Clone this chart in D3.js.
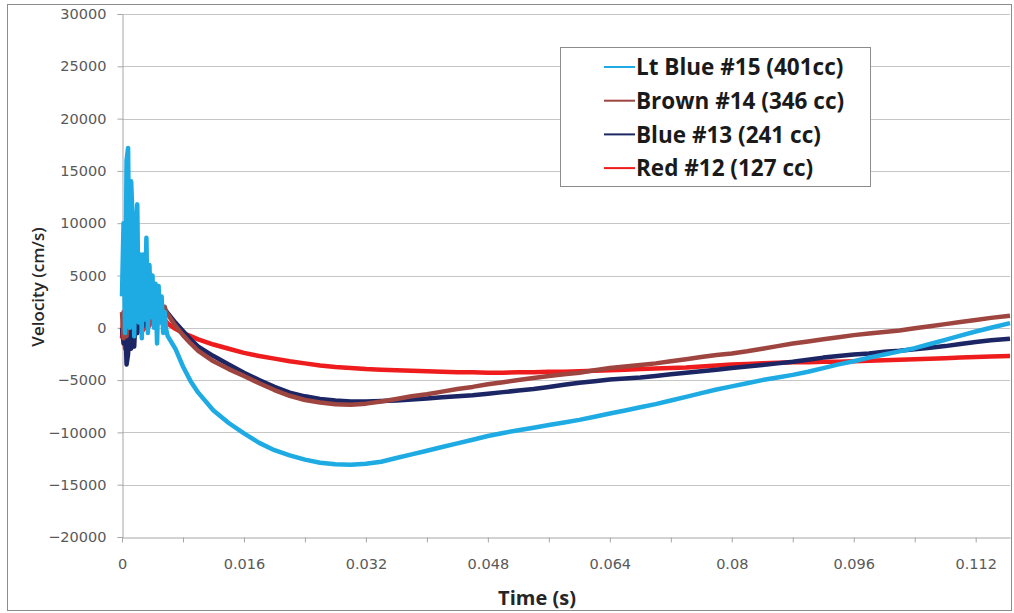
<!DOCTYPE html>
<html>
<head>
<meta charset="utf-8">
<script src="https://cdn.jsdelivr.net/npm/d3@7"></script>
<style>
  body { margin: 0; background: #fff; }
  svg { display: block; }
  .tick text { font-family: "DejaVu Sans", sans-serif; fill: #595959; }
</style>
</head>
<body>
<svg id="chart"></svg>
<script>
// time samples (s)
var times = [0, 0.0002, 0.0004, 0.0006, 0.0008, 0.001, 0.0012, 0.0014, 0.0016, 0.0018,
  0.002, 0.0022, 0.0024, 0.0026, 0.0028, 0.003, 0.0032, 0.0034, 0.0036, 0.0038,
  0.004, 0.0042, 0.0044, 0.0046, 0.0048, 0.005, 0.0052, 0.0054, 0.0056, 0.0058, 0.006,
  0.007, 0.008, 0.009, 0.010,
  0.012, 0.014, 0.016, 0.018, 0.020, 0.022, 0.024, 0.026, 0.028, 0.030,
  0.032, 0.034, 0.036, 0.038, 0.040, 0.042, 0.044, 0.046, 0.048, 0.050,
  0.052, 0.054, 0.056, 0.058, 0.060, 0.062, 0.064, 0.066, 0.068, 0.070,
  0.072, 0.074, 0.076, 0.078, 0.080, 0.082, 0.084, 0.086, 0.088, 0.090,
  0.092, 0.094, 0.096, 0.098, 0.100, 0.102, 0.104, 0.106, 0.108, 0.110,
  0.112, 0.114, 0.1165];

// velocity (cm/s)
var ltBlue15 = [3000, 10000, -500, 16000, 17200, 0, 14000, 10200, -800, 9000,
  11800, 500, 7000, -1000, 7000, 800, 8600, -500, 6000, 1000,
  5000, 0, 4200, -1500, 4000, 500, 3000, -500, 1500, -200, -800,
  -2000, -3700, -5100, -6200,
  -7900, -9100, -10100, -11000, -11700, -12200, -12600, -12900, -13050, -13100,
  -13000, -12800, -12450, -12100, -11750, -11400, -11050, -10700, -10350, -10050,
  -9800, -9550, -9300, -9050, -8800, -8500, -8200, -7900, -7600, -7300,
  -6950, -6600, -6250, -5900, -5600, -5300, -5000, -4750, -4500, -4200,
  -3850, -3500, -3200, -2850, -2550, -2250, -1950, -1550, -1150, -750,
  -350, 0, 450];

var brown14 = [1500, -1000, 1200, -800, 1500, 0, 2000, 500, 2200, 800,
  2500, 1000, 2300, 1200, 2600, 1500, 2800, 1800, 3000, 2200,
  2900, 2300, 2800, 2200, 2500, 2000, 2200, 1700, 2000, 1500, 1300,
  200, -700, -1500, -2200,
  -3200, -3950, -4600, -5300, -5950, -6500, -6900, -7150, -7300, -7350,
  -7250, -7050, -6800, -6550, -6350, -6100, -5850, -5650, -5400, -5200,
  -5000, -4800, -4600, -4450, -4300, -4050, -3850, -3700, -3550, -3400,
  -3200, -3000, -2800, -2600, -2450, -2250, -2000, -1750, -1500, -1300,
  -1100, -900, -700, -550, -400, -250, -50, 150, 350, 550,
  750, 950, 1150];

var blue13 = [0, -1500, 1000, -3500, -2500, 1500, -2000, 500, -1800, 1500,
  -500, 2000, 0, 2200, 200, 1800, 500, 2500, 1000, 2300,
  1200, 2500, 1600, 2300, 1800, 2200, 1800, 2000, 1700, 1600, 1400,
  500, -300, -1100, -1800,
  -2700, -3500, -4300, -5000, -5650, -6200, -6550, -6800, -6950, -7050,
  -7050, -7000, -6950, -6850, -6750, -6650, -6550, -6450, -6300, -6150,
  -6000, -5850, -5650, -5450, -5250, -5100, -4950, -4850, -4750, -4600,
  -4450, -4300, -4150, -4000, -3850, -3700, -3550, -3400, -3250, -3050,
  -2850, -2700, -2550, -2450, -2300, -2200, -2050, -1900, -1750, -1550,
  -1350, -1200, -1050];

var red12 = [-1000, 1500, -2000, 500, -2200, 800, -1500, 1000, -800, 1200,
  -500, 800, 0, 1000, -200, 700, 0, 900, 200, 1000,
  500, 1200, 800, 1200, 900, 1100, 800, 900, 600, 600, 400,
  -100, -500, -800, -1100,
  -1600, -2000, -2400, -2700, -2950, -3200, -3400, -3600, -3750, -3850,
  -3950, -4000, -4050, -4100, -4150, -4200, -4250, -4250, -4300, -4300,
  -4250, -4250, -4200, -4200, -4150, -4100, -4050, -4000, -3950, -3900,
  -3850, -3800, -3700, -3600, -3500, -3450, -3400, -3350, -3300, -3300,
  -3250, -3250, -3200, -3150, -3100, -3050, -3000, -2950, -2900, -2850,
  -2800, -2750, -2700];

var seriesNames = ["Lt Blue #15 (401cc)", "Brown #14 (346 cc)", "Blue #13 (241 cc)", "Red #12 (127 cc)"];
var seriesColors = ["#1eabe3", "#9e4540", "#1c2665", "#ee1c1c"];
var seriesValues = [ltBlue15, brown14, blue13, red12];

var yTicks = [-20000, -15000, -10000, -5000, 0, 5000, 10000, 15000, 20000, 25000, 30000];
var xTicks = [0, 0.008, 0.016, 0.024, 0.032, 0.040, 0.048, 0.056, 0.064, 0.072, 0.080, 0.088, 0.096, 0.104, 0.112];
var xLabels = {0: "0", 0.016: "0.016", 0.032: "0.032", 0.048: "0.048", 0.064: "0.064", 0.08: "0.08", 0.096: "0.096", 0.112: "0.112"};

var width = 1014, height = 613;
var plotLeft = 122, plotRight = 1010, plotTop = 14, plotBottom = 537;

var svg = d3.select("#chart")
  .attr("width", width)
  .attr("height", height);

// outer frame
svg.append("rect")
  .attr("x", 7.5).attr("y", 4.5)
  .attr("width", 1004).attr("height", 606)
  .attr("fill", "none")
  .attr("stroke", "#8c8c8c");

var x = d3.scaleLinear().domain([0, 0.1165]).range([plotLeft, plotRight]);
var y = d3.scaleLinear().domain([-20000, 30000]).range([plotBottom, plotTop]);

// gridlines
svg.append("g")
  .selectAll("line")
  .data(yTicks.slice(1))
  .enter()
  .append("line")
  .attr("x1", plotLeft).attr("x2", plotRight)
  .attr("y1", d => Math.round(y(d)) + 0.5)
  .attr("y2", d => Math.round(y(d)) + 0.5)
  .attr("stroke", "#c6c6c6");

var yAxis = svg.append("g")
  .attr("transform", "translate(" + (plotLeft + 0.5) + ",0)")
  .call(d3.axisLeft(y).tickValues(yTicks).tickSize(5).tickPadding(11).tickFormat(d3.format("d")));
yAxis.select(".domain").attr("stroke", "#a6a6a6");
yAxis.selectAll(".tick line").attr("stroke", "#a6a6a6");
yAxis.selectAll(".tick text").attr("font-size", 14.5);

var xAxis = svg.append("g")
  .attr("transform", "translate(0," + (plotBottom + 0.5) + ")")
  .call(d3.axisBottom(x).tickValues(xTicks).tickSize(5).tickSizeOuter(0)
    .tickFormat(d => xLabels[+d.toFixed(3)] || ""));
xAxis.select(".domain").attr("stroke", "#a6a6a6");
xAxis.selectAll(".tick line").attr("stroke", "#a6a6a6");
xAxis.selectAll(".tick text").attr("font-size", 14.5).attr("y", 21);

// lines, red first so light blue ends up on top
var line = d3.line()
  .x((d, i) => x(times[i]))
  .y(d => y(d));

var drawOrder = [3, 2, 1, 0];
drawOrder.forEach(function (k) {
  svg.append("path")
    .datum(seriesValues[k])
    .attr("fill", "none")
    .attr("stroke", seriesColors[k])
    .attr("stroke-width", 4.5)
    .attr("stroke-linejoin", "round")
    .attr("d", line);
});

// axis titles
svg.append("text")
  .attr("x", 537).attr("y", 605)
  .attr("text-anchor", "middle")
  .attr("font-family", "Open Sans, sans-serif")
  .attr("font-weight", "bold")
  .attr("font-size", 20)
  .attr("fill", "#262626")
  .text("Time (s)");

svg.append("text")
  .attr("transform", "translate(44,287) rotate(-90)")
  .attr("text-anchor", "middle")
  .attr("font-family", "Open Sans, sans-serif")
  .attr("font-weight", 600)
  .attr("font-size", 17)
  .attr("fill", "#262626")
  .text("Velocity (cm/s)");

// legend
var legend = svg.append("g");
legend.append("rect")
  .attr("x", 560.5).attr("y", 47.5)
  .attr("width", 310).attr("height", 139)
  .attr("fill", "#fff")
  .attr("stroke", "#8c8c8c");

seriesNames.forEach(function (name, i) {
  var cy = 67 + i * 33.7;
  legend.append("line")
    .attr("x1", 604).attr("x2", 635)
    .attr("y1", cy).attr("y2", cy)
    .attr("stroke", seriesColors[i])
    .attr("stroke-width", 2);
  legend.append("text")
    .attr("x", 636).attr("y", cy)
    .attr("dy", "0.36em")
    .attr("font-family", "Open Sans, sans-serif")
    .attr("font-weight", "bold")
    .attr("font-size", 22.5)
    .attr("fill", "#1a1a1a")
    .text(name);
});
</script>
</body>
</html>
